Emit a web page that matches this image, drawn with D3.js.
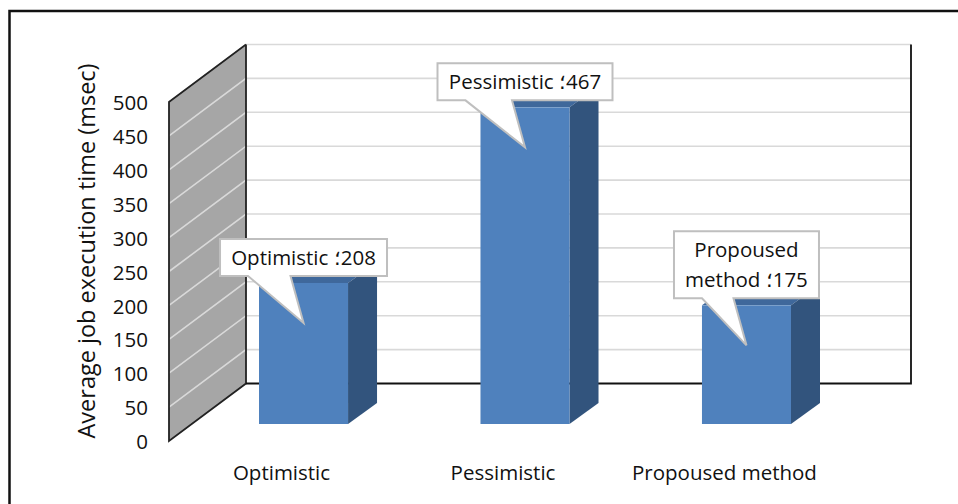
<!DOCTYPE html>
<html>
<head>
<meta charset="utf-8">
<script src="https://cdn.jsdelivr.net/npm/d3@7"></script>
<style>
body { margin: 0; background: #fff; }
text { font-family: "Open Sans", "Noto Sans", sans-serif; fill: #111; }
.callout text { direction: ltr; unicode-bidi: bidi-override; }
</style>
</head>
<body>
<svg id="chart" width="958" height="504"></svg>
<script>
const categories = ["Optimistic", "Pessimistic", "Propoused method"]
const values = [208, 467, 175]
const tickValues = [0, 50, 100, 150, 200, 250, 300, 350, 400, 450, 500]
const calloutLines = [["Optimistic ؛208"], ["Pessimistic ؛467"], ["Propoused", "method ؛175"]]

let svg = d3.select("#chart")

// only top and left of the frame are in the picture
svg.append("path")
    .attr("d", d3.line()([[9.5, 504], [9.5, 11], [958, 11]]))
    .attr("fill", "none").attr("stroke", "#111").attr("stroke-width", 2.5)

// front edge of the axis
let yScale = d3.scaleLinear().domain([0, 500]).range([441, 102])
let xScale = d3.scaleBand().domain(categories).range([259, 791]).paddingInner(0.598).paddingOuter(0)

// back wall is shifted by the depth
let depthX = 77, depthY = -57.5
let floorRight = 911
let wallX = 169

let barBase = yScale(0) - 17
let barDepthX = 29, barDepthY = -21
let barHeight = v => yScale(0) - yScale(v)
let barTop = v => barBase - barHeight(v)

// left wall
svg.append("polygon")
    .attr("points", [[wallX, yScale(0)], [wallX, yScale(500)], [wallX + depthX, yScale(500) + depthY], [wallX + depthX, yScale(0) + depthY]].join(" "))
    .attr("fill", "#a6a6a6")

// gridlines on both walls
let grid = svg.append("g").attr("fill", "none").attr("stroke", "#d9d9d9").attr("stroke-width", 1.6)
tickValues.filter(t => t > 0).forEach(t => {
    grid.append("path").attr("d", d3.line()([
        [wallX, yScale(t)],
        [wallX + depthX, yScale(t) + depthY],
        [floorRight, yScale(t) + depthY]
    ]))
})

// wall outlines
svg.append("path")
    .attr("d", d3.line()([
        [wallX + depthX, yScale(500) + depthY],
        [wallX, yScale(500)],
        [wallX, yScale(0)],
        [wallX + depthX, yScale(0) + depthY],
        [wallX + depthX, yScale(500) + depthY]
    ]))
    .attr("fill", "none").attr("stroke", "#222").attr("stroke-width", 1.8)
svg.append("path")
    .attr("d", d3.line()([
        [wallX + depthX, yScale(0) + depthY],
        [floorRight, yScale(0) + depthY],
        [floorRight, yScale(500) + depthY]
    ]))
    .attr("fill", "none").attr("stroke", "#111").attr("stroke-width", 1.8)

// bars
svg.append("g").selectAll("g").data(categories).join("g").each(function (c, i) {
    let g = d3.select(this)
    let x0 = xScale(c)
    let w = xScale.bandwidth()
    let top = barTop(values[i])
    g.append("polygon")
        .attr("points", [[x0, top], [x0 + barDepthX, top + barDepthY], [x0 + w + barDepthX, top + barDepthY], [x0 + w, top]].join(" "))
        .attr("fill", "#3f689b")
    g.append("polygon")
        .attr("points", [[x0 + w, top], [x0 + w + barDepthX, top + barDepthY], [x0 + w + barDepthX, barBase + barDepthY], [x0 + w, barBase]].join(" "))
        .attr("fill", "#32547d")
    g.append("rect")
        .attr("x", x0).attr("y", top).attr("width", w).attr("height", barHeight(values[i]))
        .attr("fill", "#4f81bd")
})

// y tick labels
svg.append("g").selectAll("text").data(tickValues).join("text")
    .attr("x", 148).attr("y", d => yScale(d) + 1).attr("dy", "0.35em")
    .attr("text-anchor", "end").attr("font-size", 20.5).text(d => d)

// category labels
svg.append("g").selectAll("text").data(categories).join("text")
    .attr("x", c => xScale(c) + xScale.bandwidth() / 2 - 22)
    .attr("y", 480)
    .attr("text-anchor", "middle").attr("font-size", 20.5).text(c => c)

svg.append("text")
    .attr("transform", "translate(95,251) rotate(-90)")
    .attr("text-anchor", "middle").attr("font-size", 23.5)
    .text("Average job execution time (msec)")

// callouts
let boxWidth = [167, 175, 145]
let lineHeight = 30
svg.append("g").selectAll("g").data(categories).join("g").attr("class", "callout").each(function (c, i) {
    let g = d3.select(this)
    let tipX = xScale(c) + xScale.bandwidth() / 2
    let tipY = barTop(values[i]) + 40
    let lines = calloutLines[i]
    let bottom = barTop(values[i]) - 7
    let h = lines.length * lineHeight + 7
    let left = tipX - boxWidth[i] / 2
    let right = left + boxWidth[i]
    g.append("path")
        .attr("d", d3.line()([
            [left, bottom - h], [right, bottom - h], [right, bottom],
            [tipX - 13, bottom], [tipX, tipY], [left + 28, bottom], [left, bottom]
        ]) + "Z")
        .attr("fill", "#fff").attr("stroke", "#bfbfbf").attr("stroke-width", 2)
    g.selectAll("text").data(lines).join("text")
        .attr("x", tipX)
        .attr("y", (d, k) => bottom - h + 26 + k * lineHeight)
        .attr("text-anchor", "middle").attr("font-size", 20.5)
        .text(d => d)
})
</script>
</body>
</html>
